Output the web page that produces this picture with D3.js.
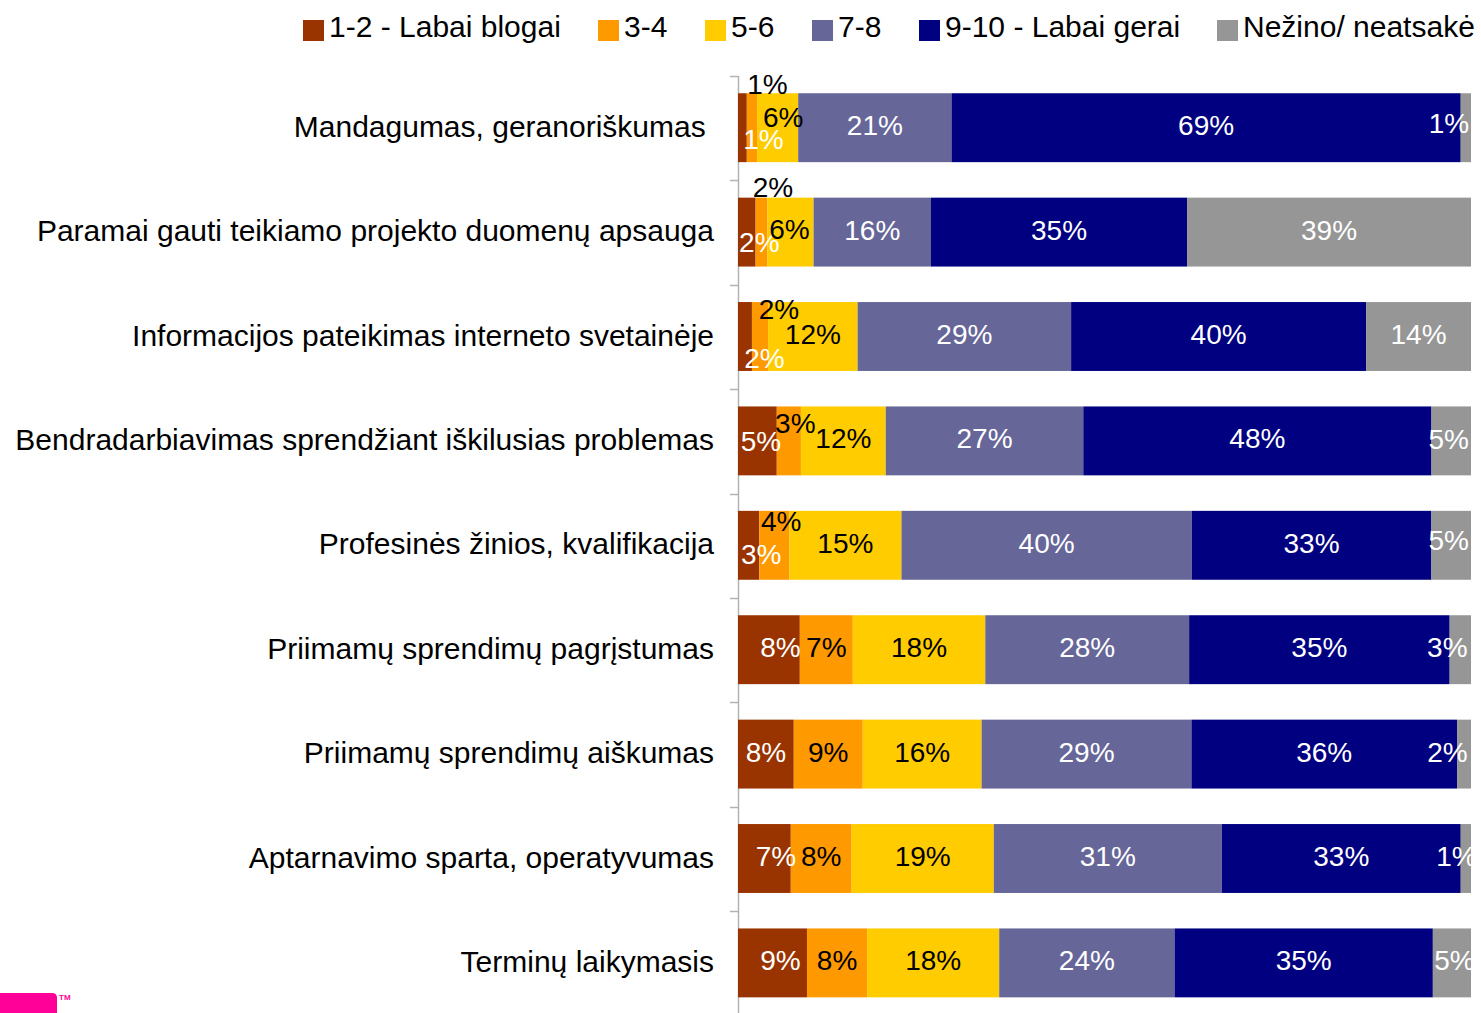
<!DOCTYPE html>
<html>
<head>
<meta charset="utf-8">
<script src="https://cdn.jsdelivr.net/npm/d3@7"></script>
<style>
body { margin: 0; background: #fff; overflow: hidden; }
svg text { font-family: "Liberation Sans", Arial, sans-serif; }
</style>
</head>
<body>
<svg id="chart"></svg>
<script>
// kategorijos (iš viršaus žemyn)
const categories = [
    "Mandagumas, geranoriškumas ",
    "Paramai gauti teikiamo projekto duomenų apsauga",
    "Informacijos pateikimas interneto svetainėje",
    "Bendradarbiavimas sprendžiant iškilusias problemas",
    "Profesinės žinios, kvalifikacija",
    "Priimamų sprendimų pagrįstumas",
    "Priimamų sprendimų aiškumas",
    "Aptarnavimo sparta, operatyvumas",
    "Terminų laikymasis"
];

const seriesNames = ["1-2 - Labai blogai", "3-4", "5-6", "7-8", "9-10 - Labai gerai", "Nežino/ neatsakė"];

// procentai kiekvienai serijai
const s12  = [1.2, 2.4, 1.9, 5.3, 2.9, 8.4, 7.6, 7.2, 9.4];
const s34  = [1.4, 1.6, 2.2, 3.3, 4.1, 7.2, 9.4, 8.3, 8.2];
const s56  = [5.6, 6.3, 12.2, 11.6, 15.3, 18.0, 16.2, 19.4, 18.0];
const s78  = [20.9, 16.0, 29.1, 27.0, 39.6, 27.7, 28.6, 31.1, 23.9];
const s910 = [69.4, 34.9, 40.2, 47.6, 32.7, 35.4, 36.2, 32.6, 35.2];
const sNA  = [1.4, 38.7, 14.3, 5.4, 5.4, 2.9, 1.9, 1.4, 5.2];

const colors = ["#993300", "#ff9900", "#ffcc00", "#666699", "#000080", "#969696"];
const labelColors = ["#fff", "#000", "#000", "#fff", "#fff", "#fff"];

// mažų etikečių poslinkiai [dx, dy] (eilutė-serija)
const nudges = {
    "0-0": [21, 12], "0-1": [15.5, -42.5], "0-2": [5.5, -10], "0-5": [-17, -4],
    "1-0": [12.5, 10.5], "1-1": [11.5, -44.5], "1-2": [-1, -2.5],
    "2-0": [19.5, 22.5], "2-1": [19, -26.5],
    "3-0": [3.5, 1], "3-1": [6.5, -16.5], "3-5": [-2.5, -1],
    "4-0": [12.5, 10], "4-1": [7, -23], "4-5": [-2.5, -4],
    "5-0": [11.5, -1.5], "5-5": [-13, -1.5],
    "6-5": [-16.5, -1.5],
    "7-0": [11.5, -1.5], "7-5": [-9.5, -1.5],
    "8-0": [8, -1.5], "8-5": [2.5, -1.5]
};

const width = 1481;
const height = 1013;

const seriesValues = [s12, s34, s56, s78, s910, sNA];
const table = categories.map((c, i) => {
    const row = { cat: c };
    seriesNames.forEach((k, j) => { row[k] = seriesValues[j][i]; });
    return row;
});

const stacked = d3.stack()
    .keys(seriesNames)
    .offset(d3.stackOffsetExpand)(table);

const x = d3.scaleLinear().domain([0, 1]).range([738, 1471]);
const y = d3.scaleBand()
    .domain(categories)
    .range([75.5, 75.5 + 9 * 104.4])
    .paddingInner(0.34)
    .paddingOuter(0.17);

const svg = d3.select('#chart')
    .attr('width', width)
    .attr('height', height);

// ašis ir padalos
svg.append('line')
    .attr('x1', 738.5).attr('x2', 738.5)
    .attr('y1', 76).attr('y2', height)
    .attr('stroke', '#b3b3b3').attr('stroke-width', 1.5);

d3.range(categories.length + 1).forEach(i => {
    const yy = Math.round(76 + i * y.step()) + 0.5;
    svg.append('line')
        .attr('x1', 730).attr('x2', 738)
        .attr('y1', yy).attr('y2', yy)
        .attr('stroke', '#b3b3b3').attr('stroke-width', 1.5);
});

// stulpeliai
const layers = svg.selectAll('g.layer')
    .data(stacked)
    .enter().append('g')
    .attr('class', 'layer')
    .attr('fill', (d, i) => colors[i]);

layers.selectAll('rect')
    .data(d => d)
    .enter().append('rect')
    .attr('x', d => x(d[0]))
    .attr('y', d => y(d.data.cat))
    .attr('width', d => x(d[1]) - x(d[0]))
    .attr('height', y.bandwidth());

// reikšmių etiketės
stacked.forEach((layer, si) => {
    layer.forEach((d, ri) => {
        const v = d.data[seriesNames[si]];
        const n = nudges[ri + '-' + si] || [0, -1.5];
        const cx = (x(d[0]) + x(d[1])) / 2 + n[0];
        const cy = y(d.data.cat) + y.bandwidth() / 2 + n[1];
        svg.append('text')
            .attr('x', cx)
            .attr('y', cy + 9)
            .attr('text-anchor', 'middle')
            .attr('font-size', 28)
            .attr('fill', labelColors[si])
            .text(Math.round(v) + '%');
    });
});

// kategorijų pavadinimai
svg.selectAll('text.cat')
    .data(categories)
    .enter().append('text')
    .attr('class', 'cat')
    .attr('x', 714)
    .attr('y', d => y(d) + y.bandwidth() / 2 + 9)
    .attr('text-anchor', 'end')
    .attr('font-size', 30)
    .style('white-space', 'pre')
    .attr('fill', '#000')
    .text(d => d);

// legenda
const legendX = [303, 598, 705, 812, 919, 1217];
seriesNames.forEach((name, i) => {
    svg.append('rect')
        .attr('x', legendX[i]).attr('y', 20)
        .attr('width', 21).attr('height', 21)
        .attr('fill', colors[i]);
    svg.append('text')
        .attr('x', legendX[i] + 26)
        .attr('y', 37)
        .attr('font-size', 30)
        .attr('fill', '#000')
        .text(name);
});

// logotipas apačioje kairėje
svg.append('path')
    .attr('d', 'M0,993 H52 Q57,993 57,998 V1013 H0 Z')
    .attr('fill', '#ff0099');
svg.append('text')
    .attr('x', 59).attr('y', 1000)
    .attr('font-size', 8)
    .attr('font-weight', 'bold')
    .attr('fill', '#ff0099')
    .text('TM');
</script>
</body>
</html>
